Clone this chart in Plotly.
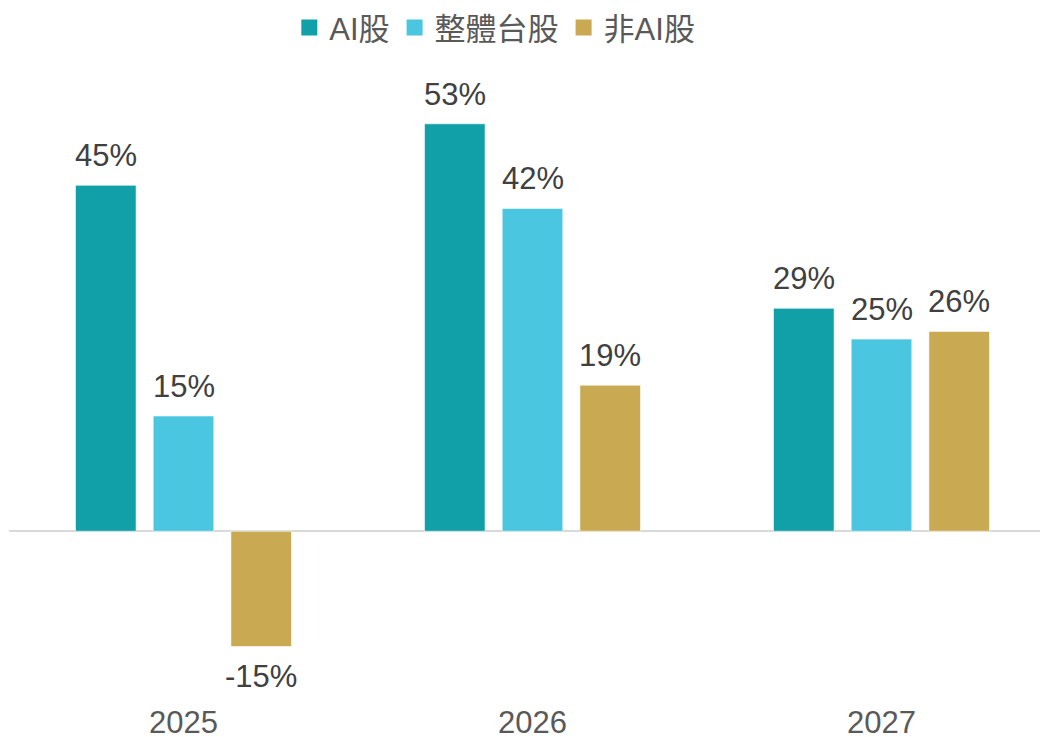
import plotly.graph_objects as go

years = ["2025", "2026", "2027"]
series_names = ["AI股", "整體台股", "非AI股"]
ai_values = [45, 53, 29]
market_values = [15, 42, 25]
non_ai_values = [-15, 19, 26]

COLORS = ["#11A0A8", "#4AC6E0", "#C9AA52"]
FONT = "Liberation Sans, Arial, Noto Sans CJK TC, sans-serif"
BARGAP = 0.332

all_values = [ai_values, market_values, non_ai_values]

fig = go.Figure()

for name, values, color in zip(series_names, all_values, COLORS):
    fig.add_trace(
        go.Bar(
            x=years,
            y=values,
            name=name,
            marker=dict(color=color, line=dict(color="rgba(255,255,255,0.6)", width=1)),
            showlegend=False,
            hoverinfo="skip",
        )
    )
    # legend entry with a larger square than the bar legend symbol
    fig.add_trace(
        go.Scatter(
            x=[None],
            y=[None],
            mode="markers",
            name=name,
            marker=dict(symbol="square", size=16, color=color),
        )
    )

# value labels above / below each bar
slot = (1 - BARGAP) / len(all_values)
for k, values in enumerate(all_values):
    for i, v in enumerate(values):
        fig.add_annotation(
            x=i + (k - 1) * slot,
            y=v,
            xref="x",
            yref="y",
            text=f"{v}%",
            showarrow=False,
            yanchor="bottom" if v >= 0 else "top",
            yshift=10 if v >= 0 else -10,
            font=dict(size=31, color="#404040", family=FONT),
        )

# page body adds an 8px margin, so the figure is laid out 8px up/left
fig.update_layout(
    width=1048,
    height=737,
    margin=dict(l=1, r=0, t=62, b=60, autoexpand=False),
    paper_bgcolor="white",
    plot_bgcolor="white",
    barmode="group",
    bargap=BARGAP,
    bargroupgap=0.22,
    font=dict(family=FONT, color="#595959"),
    showlegend=True,
    legend=dict(
        orientation="h",
        x=0.464,
        xanchor="center",
        yref="container",
        y=0.973,
        yanchor="middle",
        font=dict(size=31, color="#595959", family=FONT),
        itemclick=False,
    ),
    xaxis=dict(
        type="category",
        showgrid=False,
        showline=False,
        ticks="",
        tickfont=dict(size=31, color="#595959"),
        ticklabelstandoff=16,
        automargin=False,
    ),
    yaxis=dict(
        range=[-20, 60],
        showgrid=False,
        showticklabels=False,
        zeroline=True,
        zerolinecolor="#D9D9D9",
        zerolinewidth=2,
        automargin=False,
    ),
)

fig.write_html("out.html")
